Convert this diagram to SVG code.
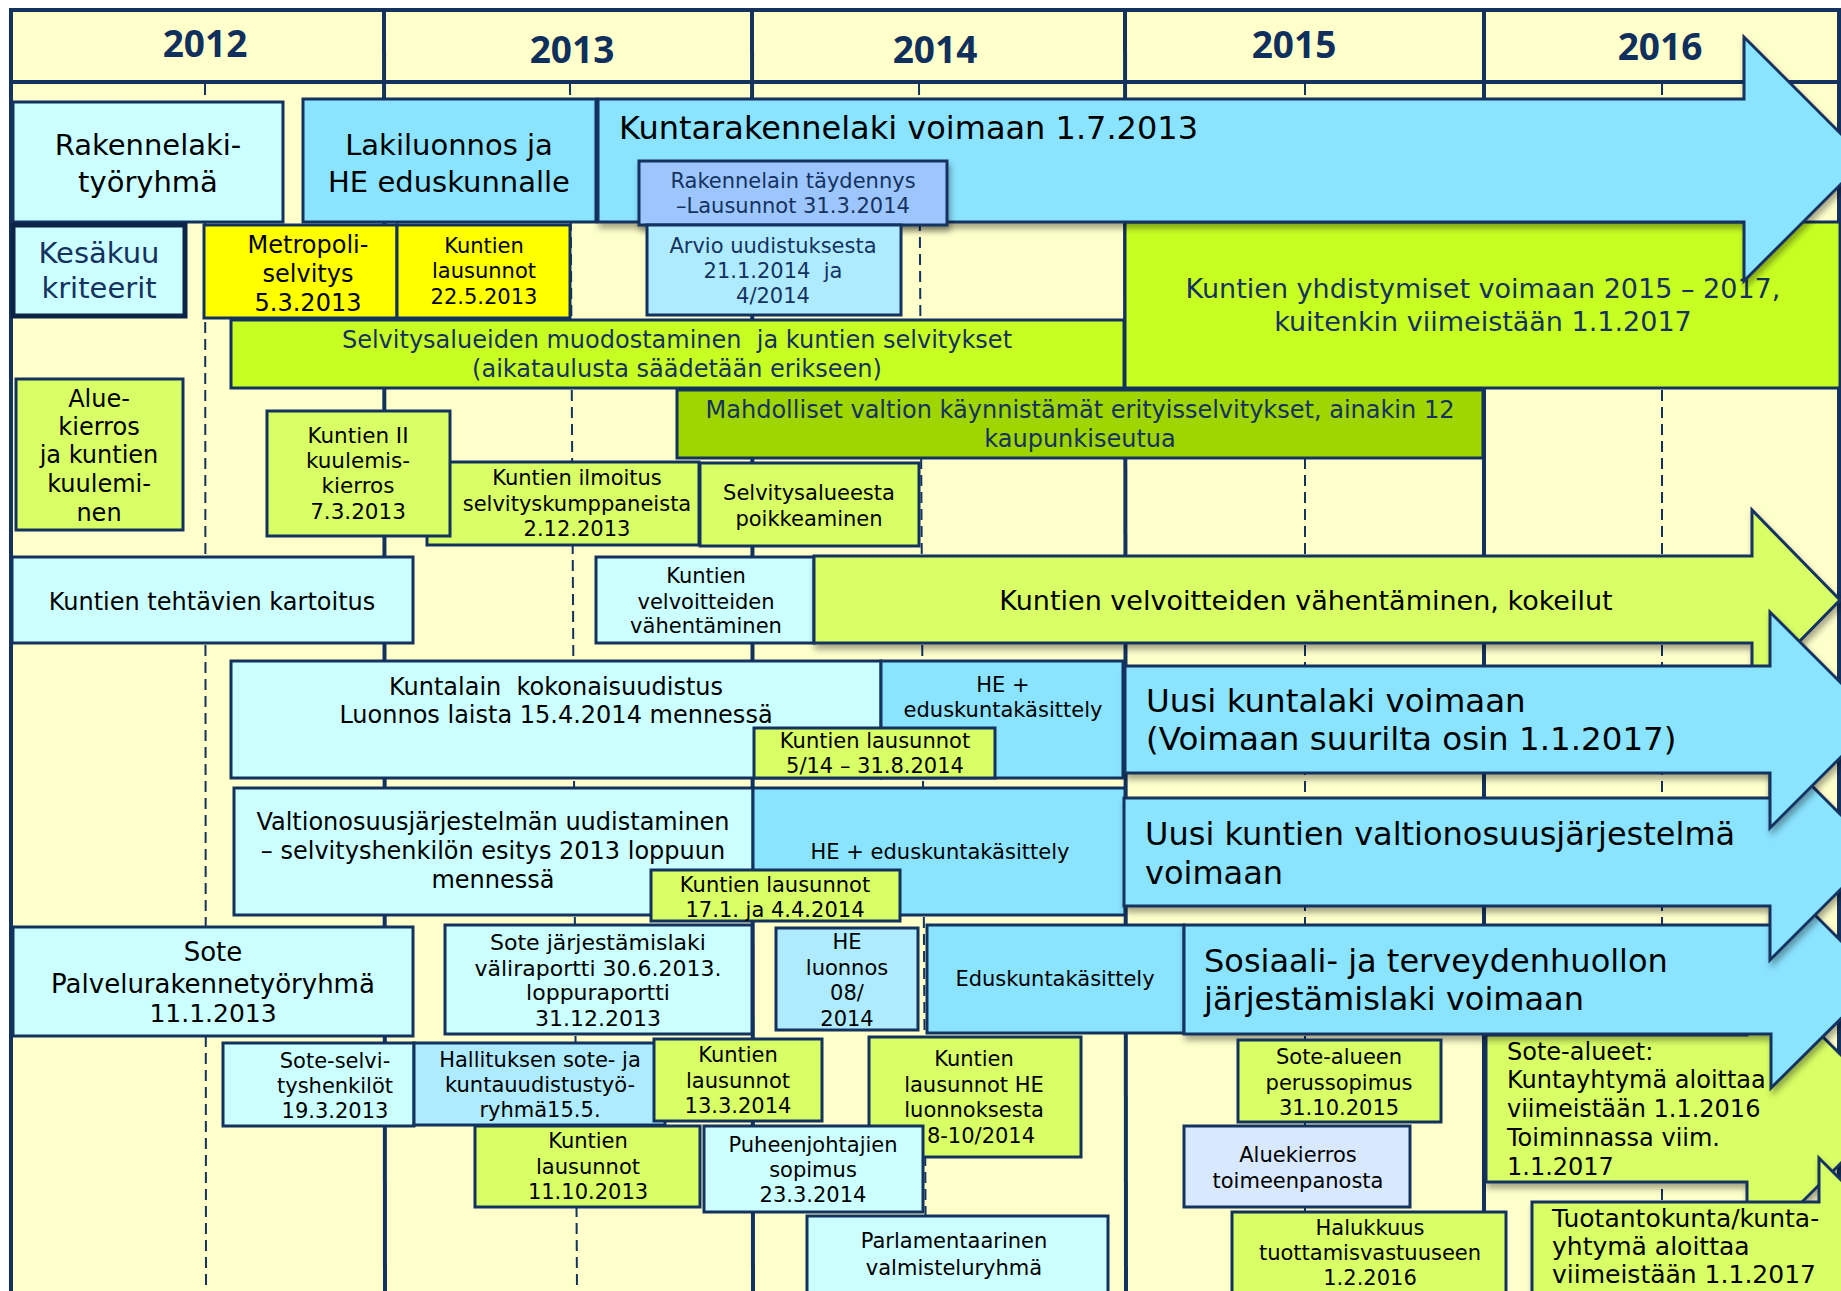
<svg xmlns="http://www.w3.org/2000/svg" width="1841" height="1291" viewBox="0 0 1841 1291">
<defs>
<style>
.bx{stroke:#13325E;stroke-width:3}
.cy{fill:#CCFFFF}.bl{fill:#8AE3FF}.lb{fill:#AEEBFF}.ye{fill:#FFFF00}.li{fill:#C8FF22}.ll{fill:#D9FF66}.dg{fill:#9FD500}.rb{fill:#9DC6FF}.lv{fill:#D7E8FF}
.t{font-family:"DejaVu Sans",Verdana,sans-serif;fill:#000;text-anchor:middle}
.st{text-anchor:start}
.n{fill:#15325F}
.f21{font-size:21px}.f22{font-size:22px}.f24{font-size:24px}.f29{font-size:29px}
.yr{font-family:"Open Sans","DejaVu Sans",sans-serif;font-weight:700;font-size:37px;fill:#0F2F5C;text-anchor:middle}
.sl{stroke:#13325E;stroke-width:4;fill:none}
.dl{stroke:#13325E;stroke-width:2;stroke-dasharray:11 6;fill:none}
</style>
<filter id="sh" x="-5%" y="-10%" width="115%" height="140%"><feDropShadow dx="2" dy="5" stdDeviation="3" flood-color="#000" flood-opacity="0.35"/></filter>
</defs>
<rect width="1841" height="1291" fill="#FFFFFF"/>
<g id="grid">
<rect x="11" y="10" width="1829" height="1290" fill="#FFFFCC"/>
<line class="dl" x1="205" y1="84" x2="206" y2="1291"/>
<line class="dl" x1="570" y1="84" x2="577" y2="1291"/>
<line class="dl" x1="919" y1="84" x2="926" y2="1291"/>
<line class="dl" x1="1305" y1="84" x2="1305" y2="1291"/>
<line class="dl" x1="1662" y1="84" x2="1662" y2="1291"/>
<line class="sl" x1="384" y1="10" x2="385" y2="1291"/>
<line class="sl" x1="752" y1="10" x2="753" y2="1291"/>
<line class="sl" x1="1125" y1="10" x2="1126" y2="1291"/>
<line class="sl" x1="1484" y1="10" x2="1484" y2="1291"/>
<line class="sl" x1="11" y1="82" x2="1840" y2="82"/>
<line class="sl" x1="9" y1="10" x2="1841" y2="10"/>
<line class="sl" x1="11" y1="10" x2="11" y2="1291"/>
<line class="sl" x1="1839" y1="10" x2="1839" y2="1291" stroke-width="3"/>
<text class="yr" x="205" y="57">2012</text>
<text class="yr" x="572" y="63">2013</text>
<text class="yr" x="935" y="63">2014</text>
<text class="yr" x="1294" y="58">2015</text>
<text class="yr" x="1660" y="60">2016</text>
</g>
<g id="rakennelaki"><rect class="bx cy" x="13" y="102" width="270" height="120"/><text class="t f29"><tspan x="148" y="155">Rakennelaki-</tspan><tspan x="148" y="192">työryhmä</tspan></text></g>
<g id="lakiluonnos"><rect class="bx bl" x="303" y="99" width="293" height="123"/><text class="t f29"><tspan x="449" y="155">Lakiluonnos ja</tspan><tspan x="449" y="192">HE eduskunnalle</tspan></text></g>
<g id="yhdistymiset"><rect class="bx li" x="1125" y="222" width="715" height="166"/><text class="t n" font-size="27"><tspan x="1483" y="298">Kuntien yhdistymiset voimaan 2015 – 2017,</tspan><tspan x="1483" y="331">kuitenkin viimeistään 1.1.2017</tspan></text></g>
<g id="kuntarakennelaki"><polygon class="bx bl" filter="url(#sh)" points="598,99 1744,99 1744,37 1866,159 1744,281 1744,222 598,222"/><text class="t st" font-size="32" x="619" y="139">Kuntarakennelaki voimaan 1.7.2013</text></g>
<g id="taydennys"><rect class="bx rb" filter="url(#sh)" x="639" y="161" width="308" height="64"/><text class="t n f21"><tspan x="793" y="188">Rakennelain täydennys</tspan><tspan x="793" y="213">–Lausunnot 31.3.2014</tspan></text></g>
<g id="kesakuu"><rect class="cy" x="13" y="225" width="172" height="91" stroke="#0B2447" stroke-width="5"/><text class="t n f29"><tspan x="99" y="263">Kesäkuu</tspan><tspan x="99" y="298">kriteerit</tspan></text></g>
<g id="metropoli"><rect class="bx ye" x="204" y="225" width="193" height="93"/><text class="t f24"><tspan x="308" y="253">Metropoli-</tspan><tspan x="308" y="282">selvitys</tspan><tspan x="308" y="311">5.3.2013</tspan></text></g>
<g id="lausunnot2205"><rect class="bx ye" x="397" y="225" width="173" height="93"/><text class="t f21"><tspan x="484" y="253">Kuntien</tspan><tspan x="484" y="278">lausunnot</tspan><tspan x="484" y="304">22.5.2013</tspan></text></g>
<g id="arvio"><rect class="bx lb" x="647" y="225" width="254" height="90"/><text class="t n f21" xml:space="preserve"><tspan x="773" y="253">Arvio uudistuksesta</tspan><tspan x="773" y="278">21.1.2014  ja</tspan><tspan x="773" y="303">4/2014</tspan></text></g>
<g id="selvitysalueet"><rect class="bx li" x="231" y="320" width="893" height="68"/><text class="t n" font-size="24" xml:space="preserve"><tspan x="677" y="348">Selvitysalueiden muodostaminen  ja kuntien selvitykset</tspan><tspan x="677" y="377">(aikataulusta säädetään erikseen)</tspan></text></g>
<g id="mahdolliset"><rect class="bx dg" x="677" y="390" width="806" height="68"/><text class="t n f24"><tspan x="1080" y="418">Mahdolliset valtion käynnistämät erityisselvitykset, ainakin 12</tspan><tspan x="1080" y="447">kaupunkiseutua</tspan></text></g>
<g id="aluekierros1"><rect class="bx ll" x="16" y="379" width="167" height="151"/><text class="t f24"><tspan x="99" y="407">Alue-</tspan><tspan x="99" y="435">kierros</tspan><tspan x="99" y="463">ja kuntien</tspan><tspan x="99" y="492">kuulemi-</tspan><tspan x="99" y="521">nen</tspan></text></g>
<g id="ilmoitus"><rect class="bx ll" x="427" y="462" width="272" height="83"/><text class="t f21"><tspan x="577" y="485">Kuntien ilmoitus</tspan><tspan x="577" y="511">selvityskumppaneista</tspan><tspan x="577" y="536">2.12.2013</tspan></text></g>
<g id="kuulemis2"><rect class="bx ll" x="267" y="411" width="183" height="125"/><text class="t" font-size="21.5"><tspan x="358" y="443">Kuntien II</tspan><tspan x="358" y="468">kuulemis-</tspan><tspan x="358" y="493">kierros</tspan><tspan x="358" y="519">7.3.2013</tspan></text></g>
<g id="poikkeaminen"><rect class="bx ll" x="700" y="463" width="219" height="83"/><text class="t f21"><tspan x="809" y="500">Selvitysalueesta</tspan><tspan x="809" y="526">poikkeaminen</tspan></text></g>
<g id="tehtavat"><rect class="bx cy" x="12" y="557" width="401" height="86"/><text class="t f24" x="212" y="610">Kuntien tehtävien kartoitus</text></g>
<g id="velvoitteet"><rect class="bx cy" x="596" y="557" width="218" height="86"/><text class="t f21"><tspan x="706" y="583">Kuntien</tspan><tspan x="706" y="609">velvoitteiden</tspan><tspan x="706" y="633">vähentäminen</tspan></text></g>
<g id="velvoitteet-arrow"><polygon class="bx ll" filter="url(#sh)" points="814,556 1752,556 1752,510 1840,600 1752,690 1752,643 814,643"/><text class="t" font-size="27" x="1306" y="610">Kuntien velvoitteiden vähentäminen, kokeilut</text></g>
<g id="kuntalaki"><rect class="bx cy" x="231" y="661" width="650" height="117"/><text class="t f24" xml:space="preserve"><tspan x="556" y="695">Kuntalain  kokonaisuudistus</tspan><tspan x="556" y="723">Luonnos laista 15.4.2014 mennessä</tspan></text></g>
<g id="he1"><rect class="bx bl" x="881" y="661" width="242" height="117"/><text class="t f21"><tspan x="1003" y="692">HE +</tspan><tspan x="1003" y="717">eduskuntakäsittely</tspan></text></g>
<g id="lausunnot514"><rect class="bx ll" x="754" y="728" width="241" height="50"/><text class="t f21"><tspan x="875" y="748">Kuntien lausunnot</tspan><tspan x="875" y="773">5/14 – 31.8.2014</tspan></text></g>
<g id="valtionosuus"><rect class="bx cy" x="234" y="788" width="519" height="127"/><text class="t f24"><tspan x="493" y="830">Valtionosuusjärjestelmän uudistaminen</tspan><tspan x="493" y="859">– selvityshenkilön esitys 2013 loppuun</tspan><tspan x="493" y="888">mennessä</tspan></text></g>
<g id="he2"><rect class="bx bl" x="753" y="788" width="372" height="127"/><text class="t f21" x="940" y="859">HE + eduskuntakäsittely</text></g>
<g id="lausunnot1701"><rect class="bx ll" x="651" y="870" width="249" height="51"/><text class="t f21"><tspan x="775" y="892">Kuntien lausunnot</tspan><tspan x="775" y="917">17.1. ja 4.4.2014</tspan></text></g>
<g id="sote-palvelu"><rect class="bx cy" x="13" y="927" width="400" height="109"/><text class="t" font-size="26"><tspan x="213" y="961">Sote</tspan><tspan x="213" y="993">Palvelurakennetyöryhmä</tspan><tspan x="213" y="1022" font-size="25">11.1.2013</tspan></text></g>
<g id="sote-jarjestamislaki"><rect class="bx cy" x="445" y="925" width="307" height="109"/><text class="t f22"><tspan x="598" y="950">Sote järjestämislaki</tspan><tspan x="598" y="976">väliraportti 30.6.2013.</tspan><tspan x="598" y="1000">loppuraportti</tspan><tspan x="598" y="1026">31.12.2013</tspan></text></g>
<g id="he-luonnos"><rect class="bx lb" x="776" y="928" width="142" height="102"/><text class="t f21"><tspan x="847" y="949">HE</tspan><tspan x="847" y="975">luonnos</tspan><tspan x="847" y="1000">08/</tspan><tspan x="847" y="1026">2014</tspan></text></g>
<g id="eduskuntakasittely"><rect class="bx bl" x="927" y="925" width="257" height="108"/><text class="t f21" x="1055" y="986">Eduskuntakäsittely</text></g>
<g id="sote-alueet"><polygon class="bx ll" filter="url(#sh)" points="1486,1035 1747,1035 1747,961 1895,1109 1747,1257 1747,1182 1486,1182"/><text class="t st f24"><tspan x="1507" y="1060">Sote-alueet:</tspan><tspan x="1507" y="1088">Kuntayhtymä aloittaa</tspan><tspan x="1507" y="1117">viimeistään 1.1.2016</tspan><tspan x="1507" y="1146">Toiminnassa viim.</tspan><tspan x="1507" y="1175">1.1.2017</tspan></text></g>
<g id="sosiaali-arrow"><polygon class="bx bl" filter="url(#sh)" points="1184,925 1771,925 1771,871 1880,980 1771,1088 1771,1034 1184,1034"/><text class="t st" font-size="32"><tspan x="1204" y="972">Sosiaali- ja terveydenhuollon</tspan><tspan x="1204" y="1010">järjestämislaki voimaan</tspan></text></g>
<g id="valtionosuus-arrow"><polygon class="bx bl" filter="url(#sh)" points="1124,798 1770,798 1770,744 1878,852 1770,960 1770,906 1124,906"/><text class="t st" font-size="32"><tspan x="1145" y="845">Uusi kuntien valtionosuusjärjestelmä</tspan><tspan x="1145" y="884">voimaan</tspan></text></g>
<g id="kuntalaki-arrow"><polygon class="bx bl" filter="url(#sh)" points="1125,666 1770,666 1770,612 1878,720 1770,828 1770,773 1125,773"/><text class="t st" font-size="32.5"><tspan x="1146" y="712">Uusi kuntalaki voimaan</tspan><tspan x="1146" y="750">(Voimaan suurilta osin 1.1.2017)</tspan></text></g>
<g id="sote-selvityshenkilot"><rect class="bx cy" x="223" y="1043" width="191" height="83"/><text class="t f21"><tspan x="335" y="1068">Sote-selvi-</tspan><tspan x="335" y="1093">tyshenkilöt</tspan><tspan x="335" y="1118">19.3.2013</tspan></text></g>
<g id="hallituksen"><rect class="bx lb" x="414" y="1043" width="251" height="82"/><text class="t f21"><tspan x="540" y="1067">Hallituksen sote- ja</tspan><tspan x="540" y="1092">kuntauudistustyö-</tspan><tspan x="540" y="1117">ryhmä15.5.</tspan></text></g>
<g id="lausunnot1303"><rect class="bx ll" x="654" y="1039" width="168" height="82"/><text class="t f21"><tspan x="738" y="1062">Kuntien</tspan><tspan x="738" y="1088">lausunnot</tspan><tspan x="738" y="1113">13.3.2014</tspan></text></g>
<g id="lausunnot1110"><rect class="bx ll" x="475" y="1126" width="225" height="81"/><text class="t f21"><tspan x="588" y="1148">Kuntien</tspan><tspan x="588" y="1174">lausunnot</tspan><tspan x="588" y="1199">11.10.2013</tspan></text></g>
<g id="lausunnot-he"><rect class="bx ll" x="869" y="1037" width="212" height="120"/><text class="t f21"><tspan x="974" y="1066">Kuntien</tspan><tspan x="974" y="1092">lausunnot HE</tspan><tspan x="974" y="1117">luonnoksesta</tspan><tspan x="981" y="1143">8-10/2014</tspan></text></g>
<g id="puheenjohtajat"><rect class="bx cy" x="704" y="1126" width="219" height="86"/><text class="t f21"><tspan x="813" y="1152">Puheenjohtajien</tspan><tspan x="813" y="1177">sopimus</tspan><tspan x="813" y="1202">23.3.2014</tspan></text></g>
<g id="parlamentaarinen"><rect class="bx cy" x="807" y="1216" width="301" height="90"/><text class="t f21"><tspan x="954" y="1248">Parlamentaarinen</tspan><tspan x="954" y="1275">valmisteluryhmä</tspan></text></g>
<g id="perussopimus"><rect class="bx ll" x="1238" y="1040" width="203" height="82"/><text class="t f21"><tspan x="1339" y="1064">Sote-alueen</tspan><tspan x="1339" y="1090">perussopimus</tspan><tspan x="1339" y="1115">31.10.2015</tspan></text></g>
<g id="aluekierros2"><rect class="bx lv" x="1184" y="1126" width="226" height="81"/><text class="t f21"><tspan x="1298" y="1162">Aluekierros</tspan><tspan x="1298" y="1188">toimeenpanosta</tspan></text></g>
<g id="halukkuus"><rect class="bx ll" x="1232" y="1212" width="274" height="90"/><text class="t f21"><tspan x="1370" y="1235">Halukkuus</tspan><tspan x="1370" y="1260">tuottamisvastuuseen</tspan><tspan x="1370" y="1285">1.2.2016</tspan></text></g>
<g id="tuotantokunta-arrow"><polygon class="bx ll" filter="url(#sh)" points="1532,1202 1819,1202 1819,1158 1936,1275 1819,1392 1819,1348 1532,1348"/><text class="t st" font-size="25"><tspan x="1552" y="1227">Tuotantokunta/kunta-</tspan><tspan x="1552" y="1255">yhtymä aloittaa</tspan><tspan x="1552" y="1283">viimeistään 1.1.2017</tspan></text></g>
</svg>
